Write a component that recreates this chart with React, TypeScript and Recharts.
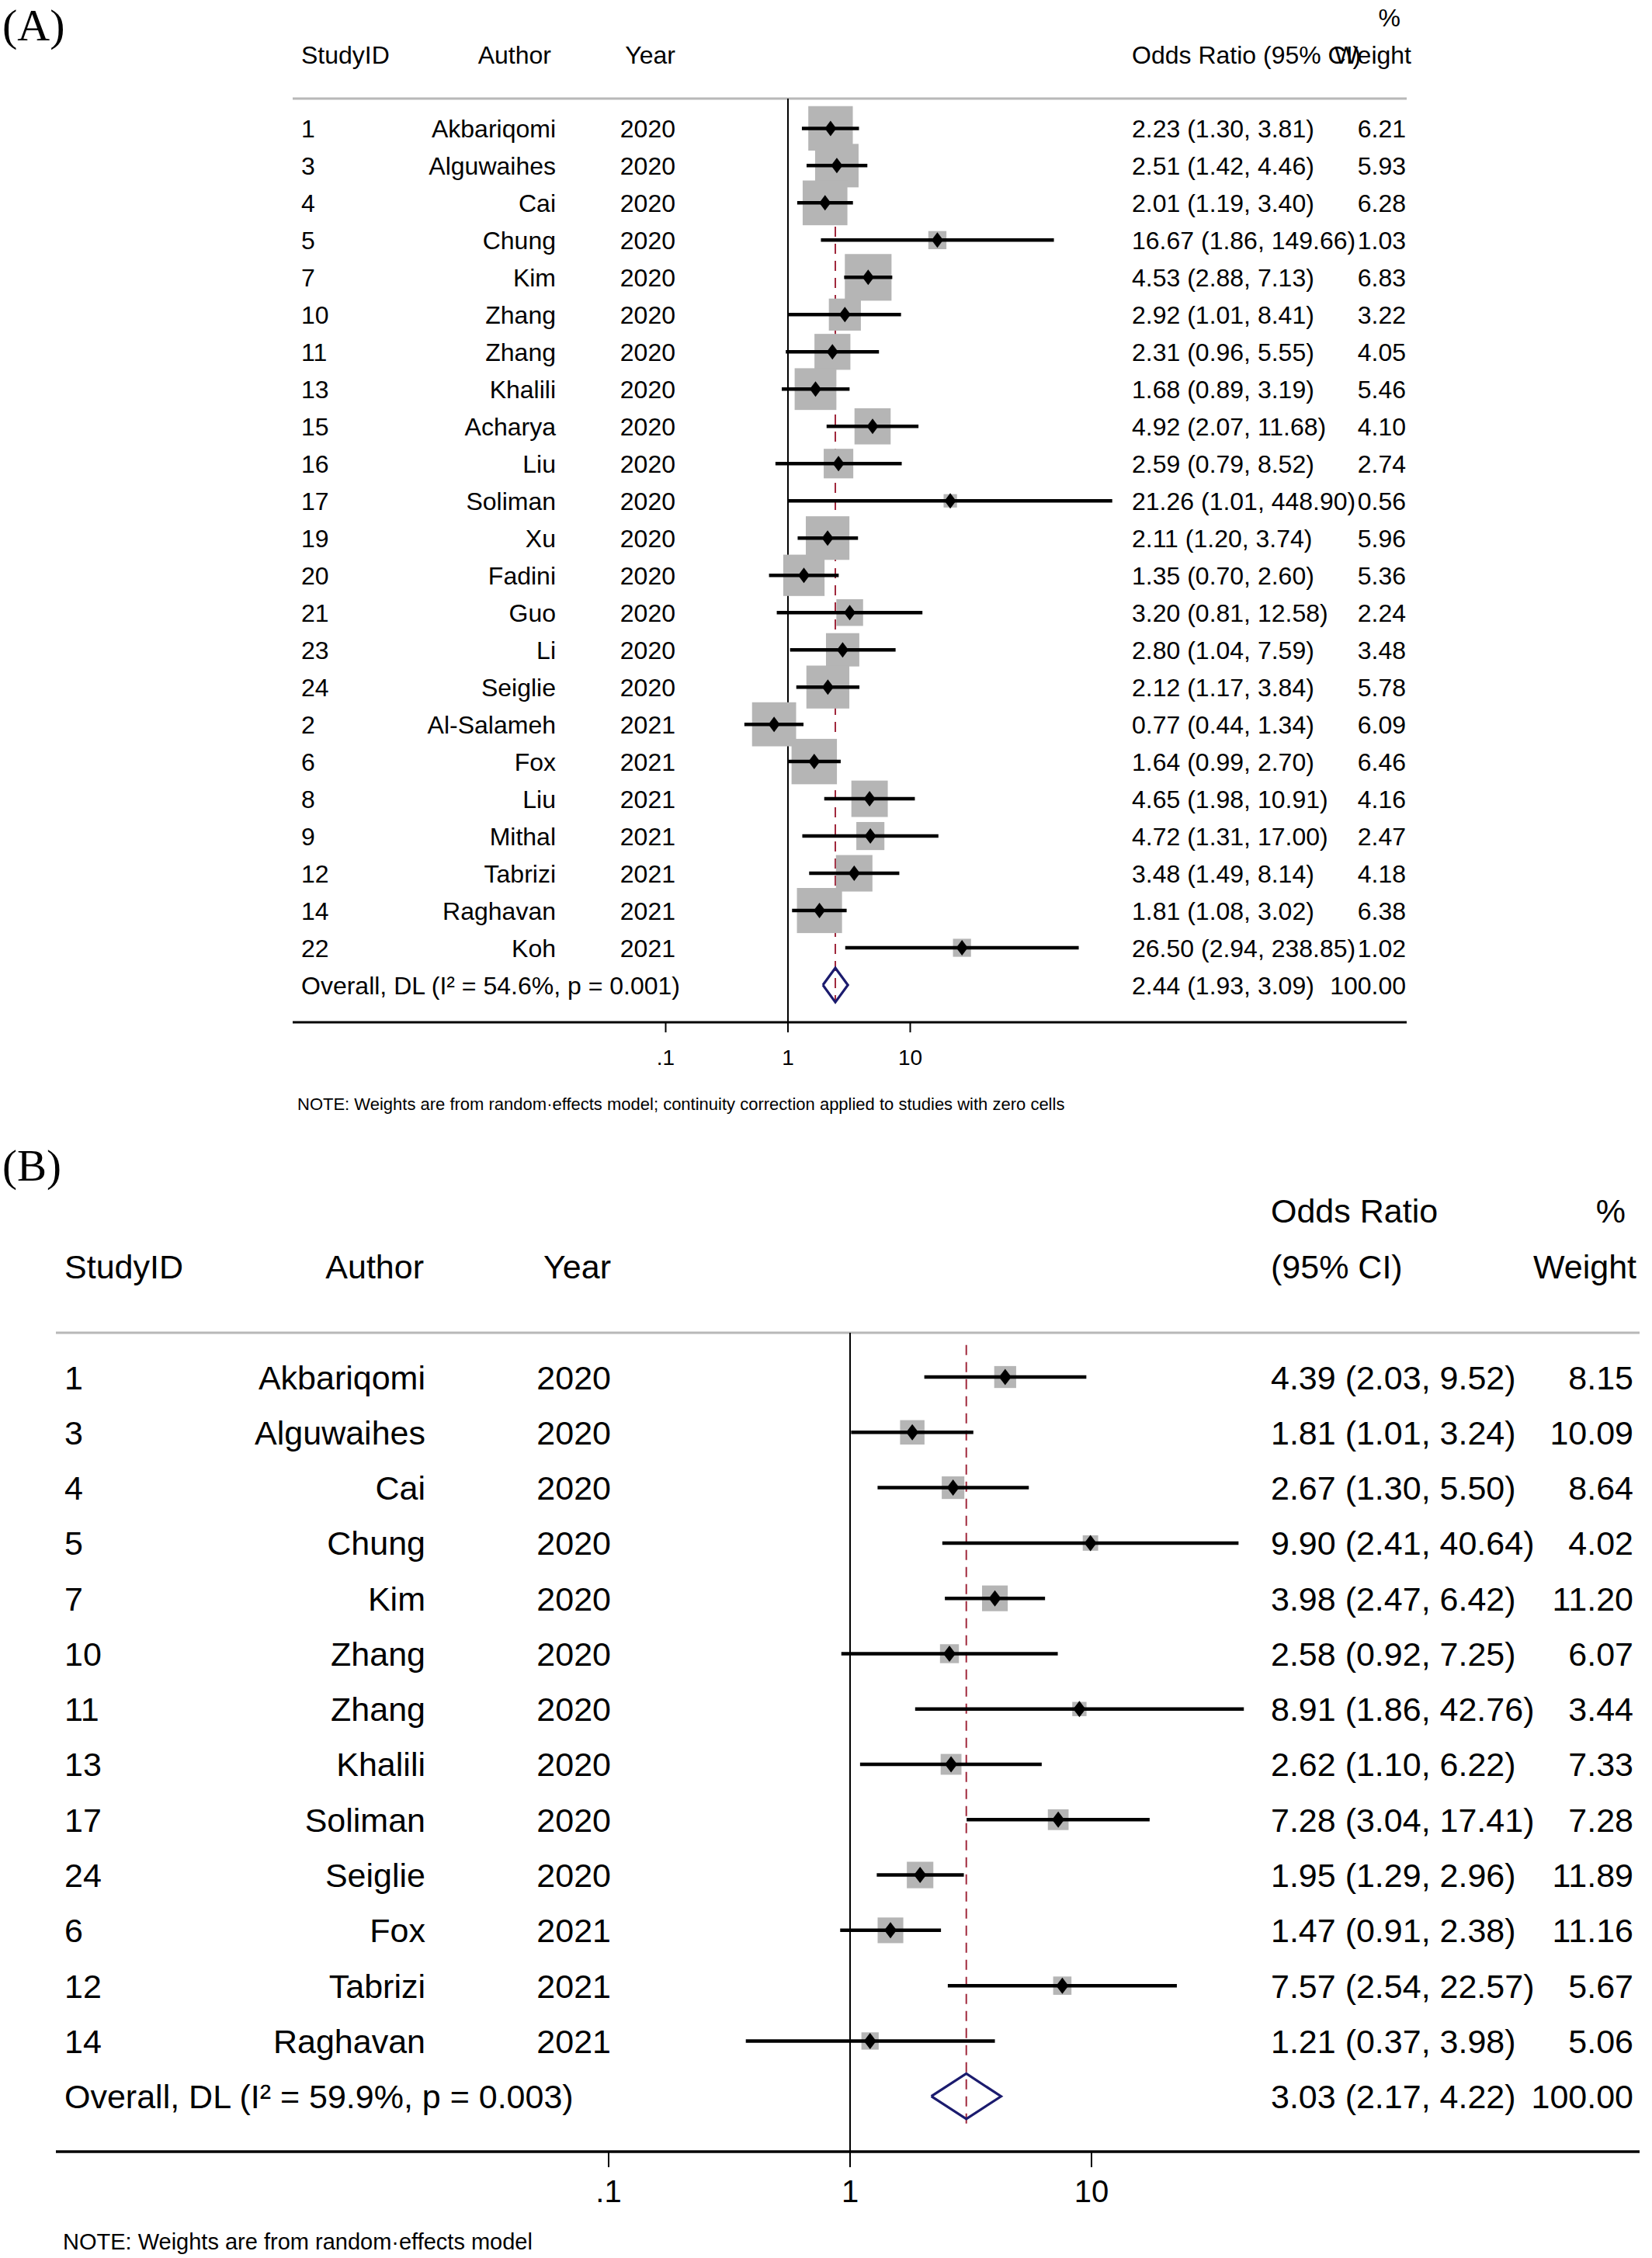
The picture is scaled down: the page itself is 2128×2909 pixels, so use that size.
import React from 'react';
import { ScatterChart, Scatter, XAxis, YAxis, ReferenceLine } from 'recharts';

const SANS = '"Liberation Sans", Arial, Helvetica, sans-serif';
const SERIF = '"Liberation Serif", "Times New Roman", serif';

// Shared x-axis ticks (log odds-ratio scale)
const xTicks = [0.1, 1, 10];
const xTickLabels = ['.1', '1', '10'];

// ---------- Panel A data ----------
const aStudyIds = ['1', '3', '4', '5', '7', '10', '11', '13', '15', '16', '17', '19', '20', '21', '23', '24', '2', '6', '8', '9', '12', '14', '22'];
const aAuthors = ['Akbariqomi', 'Alguwaihes', 'Cai', 'Chung', 'Kim', 'Zhang', 'Zhang', 'Khalili', 'Acharya', 'Liu', 'Soliman', 'Xu', 'Fadini', 'Guo', 'Li', 'Seiglie', 'Al-Salameh', 'Fox', 'Liu', 'Mithal', 'Tabrizi', 'Raghavan', 'Koh'];
const aYears = ['2020', '2020', '2020', '2020', '2020', '2020', '2020', '2020', '2020', '2020', '2020', '2020', '2020', '2020', '2020', '2020', '2021', '2021', '2021', '2021', '2021', '2021', '2021'];
const aOR = [2.23, 2.51, 2.01, 16.67, 4.53, 2.92, 2.31, 1.68, 4.92, 2.59, 21.26, 2.11, 1.35, 3.2, 2.8, 2.12, 0.77, 1.64, 4.65, 4.72, 3.48, 1.81, 26.5];
const aLow = [1.3, 1.42, 1.19, 1.86, 2.88, 1.01, 0.96, 0.89, 2.07, 0.79, 1.01, 1.2, 0.7, 0.81, 1.04, 1.17, 0.44, 0.99, 1.98, 1.31, 1.49, 1.08, 2.94];
const aHigh = [3.81, 4.46, 3.4, 149.66, 7.13, 8.41, 5.55, 3.19, 11.68, 8.52, 448.9, 3.74, 2.6, 12.58, 7.59, 3.84, 1.34, 2.7, 10.91, 17.0, 8.14, 3.02, 238.85];
const aWeights = [6.21, 5.93, 6.28, 1.03, 6.83, 3.22, 4.05, 5.46, 4.1, 2.74, 0.56, 5.96, 5.36, 2.24, 3.48, 5.78, 6.09, 6.46, 4.16, 2.47, 4.18, 6.38, 1.02];
const aOverall = [2.44, 1.93, 3.09];
const aOverallWeight = 100;
const aOverallLabel = 'Overall, DL (I\u00B2 = 54.6%, p = 0.001)';
const aNote = 'NOTE: Weights are from random\u00B7effects model; continuity correction applied to studies with zero cells';

// ---------- Panel B data ----------
const bStudyIds = ['1', '3', '4', '5', '7', '10', '11', '13', '17', '24', '6', '12', '14'];
const bAuthors = ['Akbariqomi', 'Alguwaihes', 'Cai', 'Chung', 'Kim', 'Zhang', 'Zhang', 'Khalili', 'Soliman', 'Seiglie', 'Fox', 'Tabrizi', 'Raghavan'];
const bYears = ['2020', '2020', '2020', '2020', '2020', '2020', '2020', '2020', '2020', '2020', '2021', '2021', '2021'];
const bOR = [4.39, 1.81, 2.67, 9.9, 3.98, 2.58, 8.91, 2.62, 7.28, 1.95, 1.47, 7.57, 1.21];
const bLow = [2.03, 1.01, 1.3, 2.41, 2.47, 0.92, 1.86, 1.1, 3.04, 1.29, 0.91, 2.54, 0.37];
const bHigh = [9.52, 3.24, 5.5, 40.64, 6.42, 7.25, 42.76, 6.22, 17.41, 2.96, 2.38, 22.57, 3.98];
const bWeights = [8.15, 10.09, 8.64, 4.02, 11.2, 6.07, 3.44, 7.33, 7.28, 11.89, 11.16, 5.67, 5.06];
const bOverall = [3.03, 2.17, 4.22];
const bOverallWeight = 100;
const bOverallLabel = 'Overall, DL (I\u00B2 = 59.9%, p = 0.003)';
const bNote = 'NOTE: Weights are from random\u00B7effects model';

const fmtCI = (or: number, lo: number, hi: number) => `${or.toFixed(2)} (${lo.toFixed(2)}, ${hi.toFixed(2)})`;

type Cfg = {
  ids: string[]; authors: string[]; years: string[]; or: number[]; low: number[]; high: number[]; weights: number[];
  overall: number[]; overallWeight: number; overallLabel: string;
  height: number; margin: { top: number; right: number; bottom: number; left: number };
  xDomain: [number, number]; fontSize: number; tickFont: number; tickSize: number; tickMargin: number;
  col: { id: number; author: number; year: number; or: number; w: number };
  boxK: number; mHalfW: number; mHalfH: number; ciWidth: number; axisWidth: number;
  diamondHalf: number; dashTop: number; dashBottom: number;
};

const cfgA: Cfg = {
  ids: aStudyIds, authors: aAuthors, years: aYears, or: aOR, low: aLow, high: aHigh, weights: aWeights,
  overall: aOverall, overallWeight: aOverallWeight, overallLabel: aOverallLabel,
  height: 1460, margin: { top: 127, right: 316, bottom: 83, left: 376 },
  xDomain: [Math.pow(10, -4.0508), Math.pow(10, 5.0603)], fontSize: 32, tickFont: 28, tickSize: 13, tickMargin: 22,
  col: { id: 388, author: 716, year: 870, or: 1458, w: 1811 },
  boxK: 23, mHalfW: 7.5, mHalfH: 10, ciWidth: 4.5, axisWidth: 3,
  diamondHalf: 0.46, dashTop: -0.57, dashBottom: 0.45,
};

const cfgB: Cfg = {
  ids: bStudyIds, authors: bAuthors, years: bYears, or: bOR, low: bLow, high: bHigh, weights: bWeights,
  overall: bOverall, overallWeight: bOverallWeight, overallLabel: bOverallLabel,
  height: 1449, margin: { top: 257, right: 16, bottom: 77, left: 71 },
  xDomain: [Math.pow(10, -3.2894), Math.pow(10, 3.2701)], fontSize: 43, tickFont: 40, tickSize: 20, tickMargin: 17,
  col: { id: 83, author: 548, year: 787, or: 1637, w: 2104 },
  boxK: 9.9, mHalfW: 8, mHalfH: 10.5, ciWidth: 4.5, axisWidth: 3.5,
  diamondHalf: 0.41, dashTop: -0.58, dashBottom: 0.55,
};

const Empty = () => <g />;

function ForestPanel({ cfg }: { cfg: Cfg }) {
  const n = cfg.ids.length;
  const points = cfg.or.map((v, i) => ({ x: v, y: i, w: cfg.weights[i] }));
  const ciSegments = cfg.or.map((_, i) => [{ x: cfg.low[i], y: i }, { x: cfg.high[i], y: i }]);
  const [oOR, oLo, oHi] = cfg.overall;
  const h = cfg.diamondHalf;
  const diamond = [
    { x: oLo, y: n }, { x: oOR, y: n - h }, { x: oHi, y: n }, { x: oOR, y: n + h }, { x: oLo, y: n },
  ];
  const rows = Array.from({ length: n + 1 }, (_, i) => i);

  const renderBox = (p: any) => {
    const s = cfg.boxK * Math.sqrt(p.payload.w);
    return <rect x={p.cx - s / 2} y={p.cy - s / 2} width={s} height={s} fill="#b5b5b5" />;
  };
  const renderMarker = (p: any) => {
    const { cx, cy } = p;
    const hw = cfg.mHalfW, hh = cfg.mHalfH;
    return <polygon points={`${cx - hw},${cy} ${cx},${cy - hh} ${cx + hw},${cy} ${cx},${cy + hh}`} fill="#000" />;
  };
  const renderRowTick = (props: any) => {
    const { y, payload } = props;
    const i = payload.value;
    const common = { y, dy: '0.36em', fontSize: cfg.fontSize, fontFamily: SANS, fill: '#000' } as any;
    if (i === n) {
      return (
        <g>
          <text x={cfg.col.id} textAnchor="start" {...common}>{cfg.overallLabel}</text>
          <text x={cfg.col.or} textAnchor="start" {...common}>{fmtCI(oOR, oLo, oHi)}</text>
          <text x={cfg.col.w} textAnchor="end" {...common}>{cfg.overallWeight.toFixed(2)}</text>
        </g>
      );
    }
    return (
      <g>
        <text x={cfg.col.id} textAnchor="start" {...common}>{cfg.ids[i]}</text>
        <text x={cfg.col.author} textAnchor="end" {...common}>{cfg.authors[i]}</text>
        <text x={cfg.col.year} textAnchor="end" {...common}>{cfg.years[i]}</text>
        <text x={cfg.col.or} textAnchor="start" {...common}>{fmtCI(cfg.or[i], cfg.low[i], cfg.high[i])}</text>
        <text x={cfg.col.w} textAnchor="end" {...common}>{cfg.weights[i].toFixed(2)}</text>
      </g>
    );
  };

  return (
    <ScatterChart width={2128} height={cfg.height} margin={cfg.margin}>
      <XAxis
        type="number"
        dataKey="x"
        scale="log"
        domain={cfg.xDomain}
        allowDataOverflow
        ticks={xTicks}
        interval={0}
        tickFormatter={(v: number) => xTickLabels[xTicks.indexOf(v)] ?? String(v)}
        axisLine={{ stroke: '#000', strokeWidth: cfg.axisWidth }}
        tickLine={{ stroke: '#000', strokeWidth: 2 }}
        tickSize={cfg.tickSize}
        tickMargin={cfg.tickMargin}
        tick={{ fontSize: cfg.tickFont, fill: '#000', fontFamily: SANS }}
        height={60}
      />
      <YAxis
        type="number"
        dataKey="y"
        domain={[-0.8, n + 1]}
        allowDataOverflow
        reversed
        ticks={rows}
        interval={0}
        axisLine={false}
        tickLine={false}
        width={1}
        tick={renderRowTick}
      />
      <ReferenceLine y={-0.8} stroke="#b8b8b8" strokeWidth={3} ifOverflow="visible" />
      <ReferenceLine x={1} stroke="#000" strokeWidth={2} ifOverflow="visible" />
      <Scatter data={points} shape={renderBox} isAnimationActive={false} />
      <ReferenceLine
        segment={[{ x: oOR, y: cfg.dashTop }, { x: oOR, y: n + cfg.dashBottom }]}
        stroke="#a0283c"
        strokeWidth={2}
        strokeDasharray="13 9"
        ifOverflow="visible"
      />
      {ciSegments.map((seg, i) => (
        <Scatter
          key={`ci-${i}`}
          data={seg}
          line={{ stroke: '#000', strokeWidth: cfg.ciWidth }}
          lineType="joint"
          shape={Empty}
          isAnimationActive={false}
        />
      ))}
      <Scatter data={points} shape={renderMarker} isAnimationActive={false} />
      <Scatter
        data={diamond}
        line={{ stroke: '#1b1b6e', strokeWidth: 3.2 }}
        lineType="joint"
        shape={Empty}
        isAnimationActive={false}
      />
    </ScatterChart>
  );
}

export default function App() {
  const t = (x: number, y: number, s: string, size: number, anchor: 'start' | 'end' = 'start') => (
    <text x={x} y={y} dy="0.36em" fontSize={size} fontFamily={SANS} fill="#000" textAnchor={anchor}>{s}</text>
  );
  return (
    <div style={{ position: 'absolute', left: 0, top: 0, width: 2128, height: 2909, background: '#fff' }}>
      <div style={{ position: 'absolute', left: 0, top: 0 }}>
        <ForestPanel cfg={cfgA} />
      </div>
      <div style={{ position: 'absolute', left: 0, top: 1460 }}>
        <ForestPanel cfg={cfgB} />
      </div>
      <svg width={2128} height={2909} style={{ position: 'absolute', left: 0, top: 0, pointerEvents: 'none' }}>
        {/* Panel A labels */}
        <text x={3} y={52} fontSize={58} fontFamily={SERIF} fill="#000">(A)</text>
        {t(388, 70, 'StudyID', 32)}
        {t(710, 70, 'Author', 32, 'end')}
        {t(870, 70, 'Year', 32, 'end')}
        {t(1458, 70, 'Odds Ratio (95% CI)', 32)}
        {t(1818, 70, 'Weight', 32, 'end')}
        {t(1804, 22, '%', 32, 'end')}
        {t(383, 1422, aNote, 22)}
        {/* Panel B labels */}
        <text x={3} y={1521} fontSize={57} fontFamily={SERIF} fill="#000">(B)</text>
        {t(83, 1632, 'StudyID', 43)}
        {t(546, 1632, 'Author', 43, 'end')}
        {t(787, 1632, 'Year', 43, 'end')}
        {t(1637, 1560, 'Odds Ratio', 43)}
        {t(1637, 1632, '(95% CI)', 43)}
        {t(2094, 1560, '%', 43, 'end')}
        {t(2108, 1632, 'Weight', 43, 'end')}
        {t(81, 2888, bNote, 29)}
      </svg>
    </div>
  );
}
